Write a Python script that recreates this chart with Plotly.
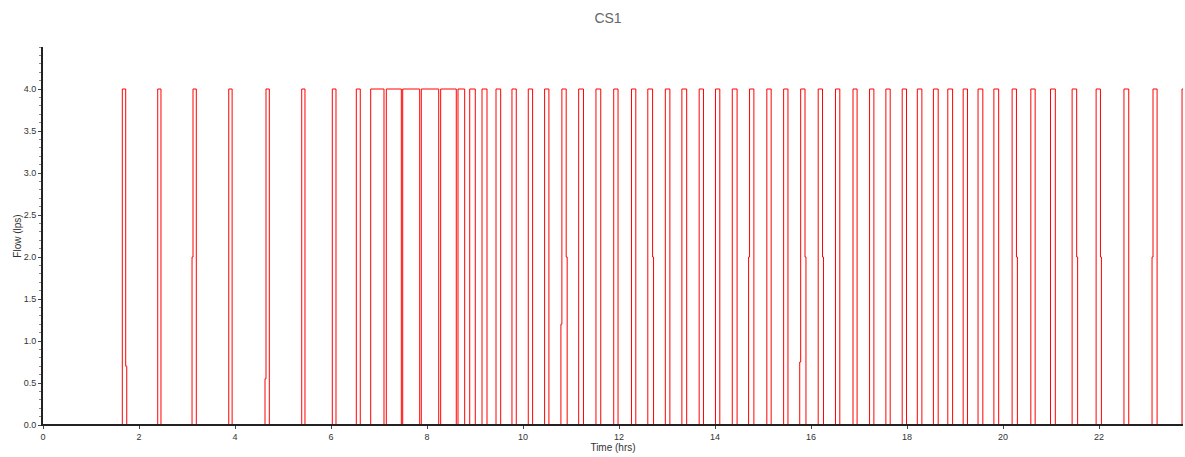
import plotly.graph_objects as go

# Step-change events: time (hrs) at which flow changes, and the new flow (lps)
time_hrs = [
    0.0, 1.652, 1.723, 1.745, 2.39, 2.458, 3.105, 3.125, 3.194, 3.87, 3.94,
    4.625, 4.646, 4.715, 5.39, 5.458, 6.027, 6.104, 6.527, 6.61,
    6.827, 7.104, 7.152, 7.465, 7.494, 7.848, 7.881, 8.244, 8.285, 8.61,
    8.646, 8.785, 8.89, 9.006, 9.146, 9.25, 9.4375, 9.535, 9.77, 9.86,
    10.11, 10.2, 10.45, 10.54, 10.79, 10.81, 10.9, 10.92, 11.16, 11.26,
    11.52, 11.62, 11.89, 11.98, 12.26, 12.35, 12.60, 12.70, 12.72,
    12.965, 13.06, 13.31, 13.41, 13.67, 13.76, 14.01, 14.10, 14.36, 14.46,
    14.70, 14.72, 14.81, 15.08, 15.17, 15.43, 15.52, 15.765, 15.785, 15.875, 15.895,
    16.15, 16.24, 16.26, 16.51, 16.6, 16.875, 16.96, 17.22, 17.31, 17.56, 17.65,
    17.9, 17.99, 18.215, 18.31, 18.55, 18.65, 18.85, 18.95, 19.17, 19.26,
    19.48, 19.58, 19.81, 19.91, 20.19, 20.28, 20.30, 20.58, 20.67, 20.99, 21.09,
    21.44, 21.535, 21.555, 21.94, 22.03, 22.05, 22.52, 22.62,
    23.105, 23.125, 23.21, 23.73, 24.0,
]
flow_lps = [
    0.0, 4.0, 0.7, 0.0, 4.0, 0.0, 2.0, 4.0, 0.0, 4.0, 0.0,
    0.55, 4.0, 0.0, 4.0, 0.0, 4.0, 0.0, 4.0, 0.0,
    4.0, 0.0, 4.0, 0.0, 4.0, 0.0, 4.0, 0.0, 4.0, 0.0,
    4.0, 0.0, 4.0, 0.0, 4.0, 0.0, 4.0, 0.0, 4.0, 0.0,
    4.0, 0.0, 4.0, 0.0, 1.2, 4.0, 2.0, 0.0, 4.0, 0.0,
    4.0, 0.0, 4.0, 0.0, 4.0, 0.0, 4.0, 2.0, 0.0,
    4.0, 0.0, 4.0, 0.0, 4.0, 0.0, 4.0, 0.0, 4.0, 0.0,
    2.0, 4.0, 0.0, 4.0, 0.0, 4.0, 0.0, 0.75, 4.0, 2.0, 0.0,
    4.0, 2.0, 0.0, 4.0, 0.0, 4.0, 0.0, 4.0, 0.0, 4.0, 0.0,
    4.0, 0.0, 4.0, 0.0, 4.0, 0.0, 4.0, 0.0, 4.0, 0.0,
    4.0, 0.0, 4.0, 0.0, 4.0, 2.0, 0.0, 4.0, 0.0, 4.0, 0.0,
    4.0, 2.0, 0.0, 4.0, 2.0, 0.0, 4.0, 0.0,
    2.0, 4.0, 0.0, 4.0, 4.0,
]

x_ticks = [0, 2, 4, 6, 8, 10, 12, 14, 16, 18, 20, 22]
y_ticks = [0.0, 0.5, 1.0, 1.5, 2.0, 2.5, 3.0, 3.5, 4.0]

fig = go.Figure()
fig.add_trace(go.Scatter(
    x=time_hrs, y=flow_lps, mode="lines",
    line=dict(color="#ff0000", width=1, shape="hv"),
    showlegend=False, hoverinfo="x+y",
))

font_family = "Liberation Sans, Arial, sans-serif"
fig.update_layout(
    width=1185, height=457,
    margin=dict(l=43, r=2, t=47, b=32, autoexpand=False),
    paper_bgcolor="white", plot_bgcolor="white",
    font=dict(family=font_family, size=9, color="#333333"),
    title=dict(text="CS1", x=608 / 1185, xanchor="center", y=1 - 18 / 457, yanchor="middle",
               font=dict(size=14, color="#666666", family=font_family)),
)
# baseline axis drawn over the zero-flow trace segments
fig.add_shape(type="line", xref="paper", yref="y", x0=0, x1=1, y0=0, y1=0,
              line=dict(color="#222222", width=2), layer="above")
fig.update_xaxes(
    range=[0, 23.75], tickvals=x_ticks, ticktext=[str(v) for v in x_ticks],
    automargin=False, layer="above traces",
    showgrid=False, zeroline=False, showline=True, linecolor="#222222", linewidth=1,
    ticks="outside", ticklen=3, tickcolor="#444444",
    title=dict(text="Time (hrs)", font=dict(size=10, color="#333333"), standoff=0),
    tickfont=dict(size=9, color="#333333"),
)
fig.update_yaxes(
    range=[0, 4.5], tickvals=y_ticks, ticktext=[f"{v:.1f}" for v in y_ticks],
    automargin=False, layer="above traces",
    showgrid=False, zeroline=False, showline=True, linecolor="#222222", linewidth=2,
    ticks="outside", ticklen=3, tickcolor="#444444",
    minor=dict(dtick=0.1, ticks="outside", ticklen=2, tickcolor="#888888", showgrid=False),
    title=dict(text="Flow (lps)", font=dict(size=10, color="#333333"), standoff=0),
    tickfont=dict(size=9, color="#333333"),
)

fig.write_html("out.html", config={"displayModeBar": False},
               post_script="document.body.style.margin='0';")
